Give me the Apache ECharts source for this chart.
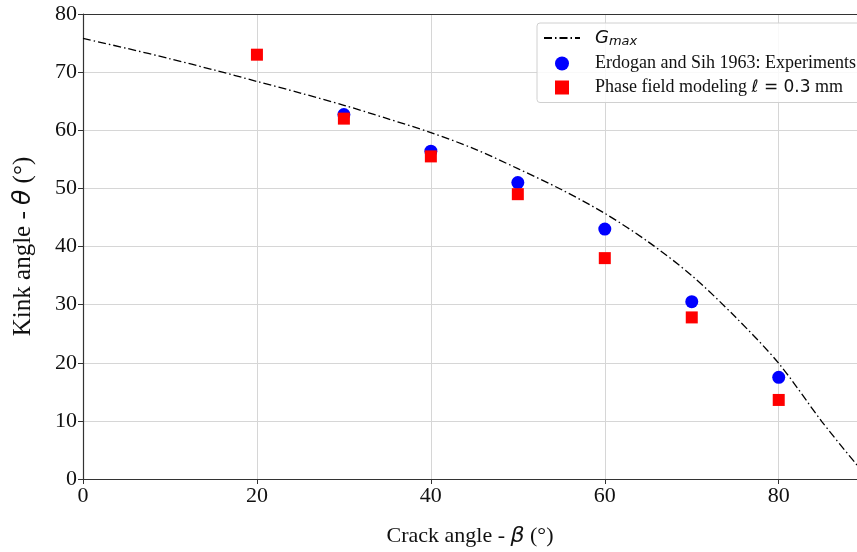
<!DOCTYPE html>
<html>
<head>
<meta charset="utf-8">
<script src="https://cdn.jsdelivr.net/npm/echarts@6/dist/echarts.min.js"></script>
<style>
  html, body { margin: 0; padding: 0; background: #fff; }
  #chart { width: 857px; height: 552px; }
</style>
</head>
<body>
<div id="chart"></div>
<script>
// G_max criterion curve
const gmaxBeta = [0, 5, 10, 15, 20, 25, 30, 35, 40, 45, 50, 55, 60, 65, 70, 75, 80, 85, 89];
const gmaxTheta = [75.8, 74.1, 72.3, 70.4, 68.4, 66.4, 64.3, 62.0, 59.6, 56.8, 53.4, 49.8, 45.7, 40.8, 35.0, 27.9, 19.9, 9.8, 2.4];

// Erdogan and Sih 1963 experiments
const expBeta = [30, 40, 50, 60, 70, 80];
const expTheta = [62.7, 56.4, 51.0, 43.0, 30.5, 17.5];

// Phase field results
const pfBeta = [20, 30, 40, 50, 60, 70, 80];
const pfTheta = [73.0, 62.0, 55.5, 49.0, 38.0, 27.8, 13.6];

const xTicks = [0, 20, 40, 60, 80];

const serif = 'Liberation Serif';
const mathFont = 'DejaVu Sans';

function pairs(xs, ys) {
  return xs.map((x, i) => [x, ys[i]]);
}

const chart = echarts.init(document.getElementById('chart'));

chart.setOption({
  animation: false,
  grid: { left: 83, right: 0, top: 14, bottom: 71 },
  legend: {
    orient: 'vertical',
    left: 537,
    top: 23,
    itemGap: 6,
    itemWidth: 36,
    itemHeight: 14,
    padding: [6, 6, 6, 6],
    backgroundColor: 'rgba(255,255,255,0.85)',
    borderColor: '#d0d0d0',
    borderWidth: 1,
    borderRadius: 3,
    data: [
      { name: 'Gmax', itemStyle: { opacity: 0 } },
      { name: 'Experiments', icon: 'circle' },
      { name: 'PhaseField', icon: 'path://M0,0 L10,0 L10,10 L0,10 Z' }
    ],
    formatter: function (name) {
      if (name === 'Gmax') return '{it|G}{sub|max}';
      if (name === 'Experiments') return '{t|Erdogan and Sih 1963: Experiments}';
      return '{t|Phase field modeling }{m|ℓ = 0.3}{t| mm}';
    },
    textStyle: {
      fontSize: 18,
      fontFamily: serif,
      color: '#111',
      padding: [0, 0, 0, 10],
      rich: {
        t: { fontSize: 18, fontFamily: serif, color: '#111' },
        m: { fontSize: 17, fontFamily: mathFont, color: '#111' },
        it: { fontSize: 18, fontFamily: mathFont, fontStyle: 'italic', color: '#111' },
        sub: { fontSize: 13, fontFamily: mathFont, fontStyle: 'italic', color: '#111', padding: [8, 0, 0, 0] }
      }
    }
  },
  xAxis: [{
    type: 'value',
    min: 0,
    max: 89,
    interval: 20,
    name: 'Crack angle - {b|β} (°)',
    nameLocation: 'middle',
    nameGap: 46,
    nameTextStyle: {
      fontSize: 22,
      fontFamily: serif,
      color: '#111',
      rich: { b: { fontSize: 22, fontFamily: mathFont, fontStyle: 'italic', color: '#111' } }
    },
    axisLine: { show: true, onZero: false, lineStyle: { color: '#333', width: 1.2 } },
    axisTick: { show: true, inside: false, length: 5, lineStyle: { color: '#333' } },
    axisLabel: {
      fontSize: 22, fontFamily: serif, color: '#111', margin: 6,
      showMaxLabel: false,
      formatter: v => (xTicks.indexOf(v) >= 0 ? String(v) : '')
    },
    splitLine: { show: true, lineStyle: { color: '#d6d6d6', width: 1 } }
  }, {
    type: 'value',
    position: 'top',
    min: 0,
    max: 89,
    axisLine: { show: true, onZero: false, lineStyle: { color: '#333', width: 1.2 } },
    axisTick: { show: false },
    axisLabel: { show: false },
    splitLine: { show: false }
  }],
  yAxis: {
    type: 'value',
    min: 0,
    max: 80,
    interval: 10,
    name: 'Kink angle - {t|θ} (°)',
    nameLocation: 'middle',
    nameRotate: 90,
    nameGap: 47,
    nameTextStyle: {
      fontSize: 25,
      fontFamily: serif,
      color: '#111',
      rich: { t: { fontSize: 25, fontFamily: mathFont, fontStyle: 'italic', color: '#111' } }
    },
    axisLine: { show: true, lineStyle: { color: '#333', width: 1.2 } },
    axisTick: { show: true, inside: false, length: 5, lineStyle: { color: '#333' } },
    axisLabel: { fontSize: 22, fontFamily: serif, color: '#111', margin: 6 },
    splitLine: { show: true, lineStyle: { color: '#d6d6d6', width: 1 } }
  },
  series: [{
    name: 'Gmax',
    type: 'line',
    data: pairs(gmaxBeta, gmaxTheta),
    smooth: 0.3,
    showSymbol: false,
    symbol: 'none',
    itemStyle: { color: '#000' },
    lineStyle: { color: '#000', width: 1.3, type: [8, 3, 1.5, 3] },
    z: 2
  }, {
    name: 'Experiments',
    type: 'scatter',
    data: pairs(expBeta, expTheta),
    symbol: 'circle',
    symbolSize: 13,
    itemStyle: { color: '#0000ff', opacity: 1 },
    z: 3
  }, {
    name: 'PhaseField',
    type: 'scatter',
    data: pairs(pfBeta, pfTheta),
    symbol: 'rect',
    symbolSize: 12,
    itemStyle: { color: '#ff0000', opacity: 1 },
    z: 4
  }]
});
</script>
</body>
</html>
